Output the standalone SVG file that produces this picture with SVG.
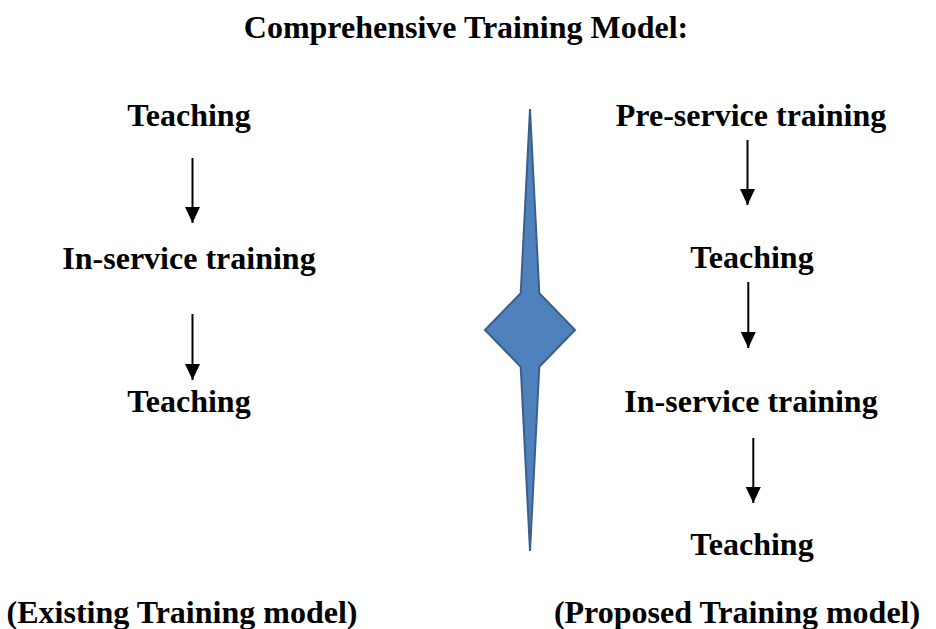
<svg xmlns="http://www.w3.org/2000/svg" width="936" height="629" viewBox="0 0 936 629">
  <style>
    .t { font-family: "Liberation Serif", "Times New Roman", serif; font-weight: bold; font-size: 32px; fill: #000; text-anchor: middle; }
    .c { stroke: #000; stroke-width: 2; fill: none; }
  </style>
  <defs>
    <marker id="ah" markerUnits="userSpaceOnUse" viewBox="0 0 16 15" markerWidth="16" markerHeight="15" refX="16" refY="7.5" orient="auto">
      <path d="M0,0 L16,7.5 L0,15 Z" fill="#000"/>
    </marker>
  </defs>
  <rect width="936" height="629" fill="#fff"/>

  <text id="title" class="t" x="466" y="38">Comprehensive Training Model:</text>

  <g id="divider">
    <path d="M530,109 L539.3,293.3 L575,330 L539.3,366.7 L530,551 L520.7,366.7 L485,330 L520.7,293.3 Z" fill="#4F81BD" stroke="#3A5F8B" stroke-width="2" stroke-linejoin="miter"/>
  </g>

  <g id="left-teaching-1"><text class="t" x="189" y="126">Teaching</text></g>
  <g id="left-inservice"><text class="t" x="189" y="269">In-service training</text></g>
  <g id="left-teaching-2"><text class="t" x="189" y="412">Teaching</text></g>
  <g id="left-caption"><text class="t" x="182" y="623">(Existing Training model)</text></g>

  <g id="right-preservice"><text class="t" x="751" y="126">Pre-service training</text></g>
  <g id="right-teaching-1"><text class="t" x="752" y="268">Teaching</text></g>
  <g id="right-inservice"><text class="t" x="751" y="412">In-service training</text></g>
  <g id="right-teaching-2"><text class="t" x="752" y="555">Teaching</text></g>
  <g id="right-caption"><text class="t" x="737" y="623">(Proposed Training model)</text></g>

  <g id="connectors">
    <line class="c" x1="192.5" y1="158" x2="192.5" y2="223" marker-end="url(#ah)"/>
    <line class="c" x1="192.5" y1="314" x2="192.5" y2="380" marker-end="url(#ah)"/>
    <line class="c" x1="747.5" y1="140" x2="747.5" y2="205" marker-end="url(#ah)"/>
    <line class="c" x1="748.3" y1="282" x2="748.3" y2="348" marker-end="url(#ah)"/>
    <line class="c" x1="753.3" y1="438" x2="753.3" y2="503" marker-end="url(#ah)"/>
  </g>
</svg>
